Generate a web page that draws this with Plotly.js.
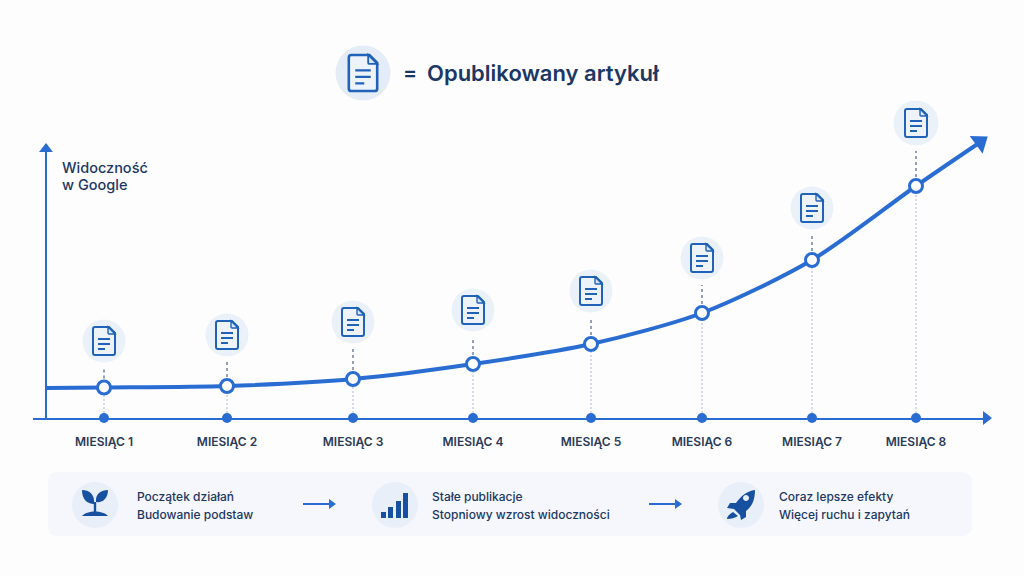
<!DOCTYPE html>
<html><head><meta charset="utf-8">
<script src="https://cdn.plot.ly/plotly-3.0.1.min.js"></script>
<style>html,body{margin:0;padding:0;background:#fdfdfe;overflow:hidden}#c{width:1024px;height:576px}</style>
</head><body><div id="c"></div>
<script>
// ---- data ----
const months = ["MIESIĄC 1","MIESIĄC 2","MIESIĄC 3","MIESIĄC 4","MIESIĄC 5","MIESIĄC 6","MIESIĄC 7","MIESIĄC 8"];
const monthPos = [104,227,353,473,591,702,812,916];
const visibility = [30.5,32,39,54,74,105,158,232];
const iconLevel = [77,83,96,108,127,160,210,295];
const iconSize = [44,44,44,44,44,44,44,46];
const curveStartX = 47, curveStartV = 30;
const curveEndX = 979, curveEndV = 275;
const legendText = "Opublikowany artykuł";
const yTitleLines = ["Widoczność","w Google"];
const stageLines = [
  ["Początek działań","Budowanie podstaw"],
  ["Stałe publikacje","Stopniowy wzrost widoczności"],
  ["Coraz lepsze efekty","Więcej ruchu i zapytań"]
];

// ---- layout helpers ----
const W=1024,H=576,L=33,R=990,T=0,B=418;
const BLUE="#2a6dd2", DEEP="#1f62b8", NAVY="#17509f", INK="#1c3763", HALO="#e4ecf7";
const FONT="Inter, 'Open Sans', sans-serif";
const px=x=>(x-L)/(R-L), py=y=>(B-y)/(B-T);
// scale a y-down design path and flip it for plotly's pixel-sized shapes
function P(str,s){let i=0;return str.replace(/-?\d*\.?\d+/g,m=>{const v=parseFloat(m)*s*(i++%2?-1:1);return v.toFixed(2)});}
function glyph(path,cx,cy,s,o){return Object.assign({type:"path",xref:"paper",yref:"paper",xsizemode:"pixel",ysizemode:"pixel",
  xanchor:px(cx),yanchor:py(cy),path:P(path,s),line:{width:0},layer:"above"},o||{});}
function disc(cx,cy,r,fill){const k=r*0.5523;
  return glyph(`M${-r} 0 C${-r} ${-k} ${-k} ${-r} 0 ${-r} C${k} ${-r} ${r} ${-k} ${r} 0 C${r} ${k} ${k} ${r} 0 ${r} C${-k} ${r} ${-r} ${k} ${-r} 0 Z`,cx,cy,1,{fillcolor:fill});}
const DOC_OUT="M-9 -14 L5 -14 L11 -8 L11 12 Q11 14 9 14 L-9 14 Q-11 14 -11 12 L-11 -12 Q-11 -14 -9 -14 Z";
const DOC_FOLD="M4 -14 L4 -8 Q4 -7 5 -7 L11 -7 Z";
const DOC_RULES="M-6 -2 L6 -2 M-6 3 L6 3 M-6 8 L1 8";
function doc(cx,cy,s){return [
  glyph(DOC_OUT,cx,cy,s,{fillcolor:"#eef3fa",line:{color:DEEP,width:2*s}}),
  glyph(DOC_FOLD,cx,cy,s,{fillcolor:"#dbe6f5",line:{color:DEEP,width:1.4*s}}),
  glyph(DOC_RULES,cx,cy,s,{line:{color:DEEP,width:1.8*s}})
];}
function flowArrow(x0,x1,y){return [
  glyph(`M${x0} ${y} L${x1-6} ${y}`,0,0,1,{xanchor:px(0),yanchor:py(0),line:{color:BLUE,width:2}}),
  glyph(`M${x1-7} ${y-5} L${x1} ${y} L${x1-7} ${y+5} Z`,0,0,1,{xanchor:px(0),yanchor:py(0),fillcolor:BLUE})
];}
function rr(x0,y0,x1,y1,r){return `M${x0+r} ${y0} L${x1-r} ${y0} Q${x1} ${y0} ${x1} ${y0+r} L${x1} ${y1-r} Q${x1} ${y1} ${x1-r} ${y1} L${x0+r} ${y1} Q${x0} ${y1} ${x0} ${y1-r} L${x0} ${y0+r} Q${x0} ${y0} ${x0+r} ${y0} Z`;}

// ---- traces ----
const traces=[
 {x:[46,46],y:[0,268],mode:"lines",line:{color:BLUE,width:2},cliponaxis:false,hoverinfo:"skip"},
 {x:[46],y:[269],mode:"markers",marker:{symbol:"triangle-up",size:12,color:BLUE},cliponaxis:false,hoverinfo:"skip"},
 {x:[986],y:[0],mode:"markers",marker:{symbol:"triangle-right",size:12,color:BLUE},cliponaxis:false,hoverinfo:"skip"},
 {x:[curveStartX,...monthPos,curveEndX],y:[curveStartV,...visibility,curveEndV],mode:"lines",
  line:{color:BLUE,width:4,shape:"spline",smoothing:0.8},cliponaxis:false,hoverinfo:"skip"},
 {x:[curveEndX+1],y:[curveEndV+1],mode:"markers",marker:{symbol:"triangle-up",size:19,angle:54,color:BLUE},cliponaxis:false,hoverinfo:"skip"},
 {x:monthPos,y:iconLevel,mode:"markers",marker:{size:iconSize,color:HALO},hoverinfo:"skip"},
 {x:[363],y:[345],mode:"markers",marker:{size:55,color:HALO},hoverinfo:"skip"},
 {x:monthPos,y:visibility,mode:"markers",marker:{size:13,color:"#fff",line:{color:BLUE,width:3}},cliponaxis:false,hoverinfo:"skip"},
 {x:monthPos,y:monthPos.map(()=>0),mode:"markers",marker:{size:10,color:BLUE},cliponaxis:false,hoverinfo:"skip"}
];

// ---- shapes ----
let shapes=[];
shapes.push(glyph(rr(48,472,972,536,10),0,0,1,{xanchor:px(0),yanchor:py(0),fillcolor:"#f5f7fc",layer:"below"}));
monthPos.forEach((x,i)=>{
  shapes.push({type:"line",xref:"x",yref:"y",x0:x,x1:x,y0:visibility[i]+9,y1:iconLevel[i]-iconSize[i]/2-5,layer:"below",line:{color:"#71839f",width:1.5,dash:"3px,3px"}});
  shapes.push({type:"line",xref:"x",yref:"y",x0:x,x1:x,y0:5,y1:visibility[i]-8,layer:"below",line:{color:"#b9c5d6",width:1.2,dash:"2px,2px"}});
  shapes.push(...doc(x,418-iconLevel[i],1));
});
shapes.push(...doc(363,73,1.29));
// stage icons
shapes.push(disc(95,505,23,"#e9eff9"),disc(395,505,23,"#e9eff9"),disc(741,505,23,"#e9eff9"));
shapes.push(glyph("M-1 -1 C-8 -1 -13 -6 -13 -15 C-6 -15 0 -11 -1 -1 Z",95,505,1,{fillcolor:NAVY}));
shapes.push(glyph("M1 -3 C0 -11 6 -15 13 -15 C13 -7 8 -2 1 -3 Z",95,505,1,{fillcolor:NAVY}));
shapes.push(glyph("M-1.2 -3 L1.2 -3 L1.2 7 L-1.2 7 Z",95,505,1,{fillcolor:NAVY}));
shapes.push(glyph("M-13 11 C-8 5 8 5 13 11 Z",95,505,1,{fillcolor:NAVY}));
shapes.push(glyph("M-14 7 L-9 7 L-9 13 L-14 13 Z M-7 2 L-2 2 L-2 13 L-7 13 Z M1 -4 L6 -4 L6 13 L1 13 Z M8 -12 L13 -12 L13 13 L8 13 Z",395,505,1,{fillcolor:NAVY}));
shapes.push(glyph("M14 -15 C6 -14 0 -9 -5 -2 L-11 -2 L-14 3 L-7 4 L-1 10 L0 15 L5 12 L5 6 C12 1 14 -7 14 -15 Z",741,505,1,{fillcolor:NAVY}));
shapes.push(glyph("M-8 7 L-3 11 C-6 13 -10 14 -14 14 C-14 11 -11 9 -8 7 Z",741,505,1,{fillcolor:NAVY}));
shapes.push(disc(746,498,3,"#e9eff9"));
shapes.push(...flowArrow(303,336,504),...flowArrow(649,682,504));

// ---- annotations ----
function label(text,x,y,size,weight,color){return {text,xref:"paper",yref:"paper",x:px(x-2),y:py(y),xanchor:"left",yanchor:"middle",showarrow:false,
  font:{family:FONT,size,weight,color}};}
const anns=[
  label("=",403,73,21,600,INK),
  label(legendText,427,73,22,600,INK),
  label(yTitleLines[0],62,167,14.5,500,INK),
  label(yTitleLines[1],62,185,14.5,500,INK)
];
const stageX=[137,432,779];
stageLines.forEach((l,i)=>{anns.push(label(l[0],stageX[i],496,12,500,INK),label(l[1],stageX[i],514,12,500,INK));});

Plotly.newPlot("c",traces,{
  width:W,height:H,showlegend:false,paper_bgcolor:"#fdfdfe",plot_bgcolor:"rgba(0,0,0,0)",
  margin:{l:L,r:W-R,t:T,b:H-B,pad:0},
  xaxis:{range:[L,R],tickmode:"array",tickvals:monthPos,ticktext:months,ticklen:0,ticklabelstandoff:12,showgrid:false,zeroline:false,
    showline:true,linecolor:BLUE,linewidth:2,tickfont:{family:FONT,size:12,weight:600,color:"#2a3a58"},layer:"below traces"},
  yaxis:{range:[0,418],visible:false,showgrid:false,zeroline:false},
  shapes,annotations:anns
},{displayModeBar:false,staticPlot:true});
</script></body></html>
